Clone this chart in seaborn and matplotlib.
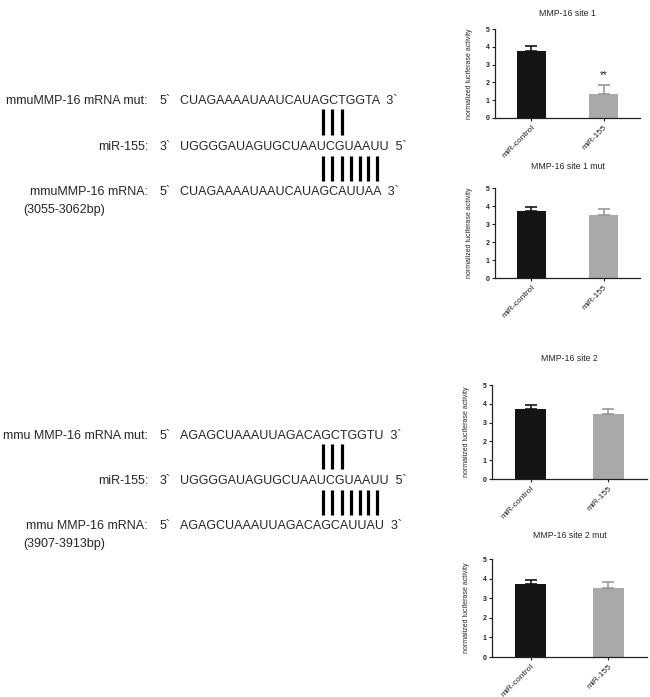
import matplotlib
matplotlib.use("Agg")
import matplotlib.pyplot as plt
import seaborn as sns
from matplotlib.font_manager import FontProperties

# luciferase assay data (mean, upper SEM)
groups = ["miR-control", "miR-155"]
titles = ["MMP-16 site 1", "MMP-16 site 1 mut", "MMP-16 site 2", "MMP-16 site 2 mut"]
means = [[3.75, 1.35], [3.75, 3.52], [3.75, 3.45], [3.75, 3.52]]
errs = [[0.30, 0.50], [0.20, 0.30], [0.20, 0.30], [0.20, 0.30]]
stars = ["**", "", "", ""]

# sequence alignments
mir155 = "UGGGGAUAGUGCUAAUCGUAAUU"
site1_mut = "CUAGAAAAUAAUCAUAGCTGGTA"
site1_wt = "CUAGAAAAUAAUCAUAGCAUUAA"
site2_mut = "AGAGCUAAAUUAGACAGCTGGTU"
site2_wt = "AGAGCUAAAUUAGACAGCAUUAU"
pairs_mut = [15, 16, 17]
pairs_wt = [15, 16, 17, 18, 19, 20, 21]
site_ranges = ["(3055-3062bp)", "(3907-3913bp)"]
mut_labels = ["mmuMMP-16 mRNA mut:", "mmu MMP-16 mRNA mut:"]
wt_labels = ["mmuMMP-16 mRNA:", "mmu MMP-16 mRNA:"]

colors = ["#151515", "#a9a9a9"]
err_colors = ["#151515", "#999999"]

sns.set_style("ticks")
plt.rcParams["font.family"] = ["Liberation Sans", "DejaVu Sans"]

W, H = 650, 697
fig = plt.figure(figsize=(W / 100, H / 100), dpi=100)

# overlay in pixel units for the alignment text
ov = fig.add_axes([0, 0, 1, 1], zorder=-1)
ov.set_xlim(0, W)
ov.set_ylim(H, 0)
ov.axis("off")

fs = 9
prop = FontProperties(family=["Liberation Sans"], size=fs)
renderer = fig.canvas.get_renderer()


def char_centers(seq, x0):
    out = []
    for i in range(len(seq)):
        w_full, _, _ = renderer.get_text_width_height_descent(seq[: i + 1], prop, ismath=False)
        w_ch, _, _ = renderer.get_text_width_height_descent(seq[i], prop, ismath=False)
        out.append(x0 + w_full - w_ch / 2)
    return out


def draw_block(ys, mut, wt, mut_lab, wt_lab, rng):
    y_mut, y_mir, y_wt, y_rng = ys
    lab_x, prime_x, seq_x = 148, 160, 180
    lines = [(y_mut, mut_lab, "5`", mut), (y_mir, "miR-155:", "3`", mir155), (y_wt, wt_lab, "5`", wt)]
    for y, lab, pr, seq in lines:
        end = "5`" if pr == "3`" else "3`"
        ov.text(lab_x, y, lab, ha="right", va="baseline", fontsize=fs)
        ov.text(prime_x, y, pr, ha="left", va="baseline", fontsize=fs)
        ov.text(seq_x, y, seq + "  " + end, ha="left", va="baseline", fontsize=fs)
    ov.text(23, y_rng, rng, ha="left", va="baseline", fontsize=fs)
    xs = char_centers(mir155, seq_x)
    for i in pairs_mut:
        ov.plot([xs[i] + 2, xs[i] + 2], [y_mut + 5, y_mir - 15], color="black", lw=2.3, solid_capstyle="butt")
    for i in pairs_wt:
        ov.plot([xs[i] + 2, xs[i] + 2], [y_mir + 6, y_wt - 14], color="black", lw=2.3, solid_capstyle="butt")


draw_block([104, 150, 195, 213], site1_mut, site1_wt, mut_labels[0], wt_labels[0], site_ranges[0])
draw_block([439, 484, 529, 547], site2_mut, site2_wt, mut_labels[1], wt_labels[1], site_ranges[1])

# bar panels: (left, top, right, bottom) in pixels
boxes = [(495, 29, 640, 118), (495, 188, 640, 278), (492, 385, 647, 479), (492, 559, 647, 657)]
title_pads = [9, 14, 17, 15]

for k, (l, t, r, b) in enumerate(boxes):
    ax = fig.add_axes([l / W, 1 - b / H, (r - l) / W, (b - t) / H])
    sns.barplot(x=groups, y=means[k], hue=groups, palette=colors, width=0.4,
                errorbar=None, legend=False, ax=ax, linewidth=0)
    for j in range(2):
        ax.errorbar(j, means[k][j], yerr=[[0], [errs[k][j]]], fmt="none",
                    ecolor=err_colors[j], elinewidth=1.2, capsize=4, capthick=1.2)
    if stars[k]:
        ax.text(1, means[k][1] + errs[k][1] + 0.55, stars[k], ha="center", va="center", fontsize=7)
    ax.set_xlim(-0.5, 1.5)
    ax.set_ylim(0, 5)
    ax.set_yticks(range(6))
    ax.set_yticklabels([str(v) for v in range(6)], fontsize=5, fontweight="bold")
    ax.set_xticks([0, 1])
    ax.set_xticklabels(groups, rotation=45, ha="right", rotation_mode="anchor", fontsize=6)
    ax.tick_params(axis="both", length=2.5, width=0.8, pad=1.5, colors="#222222")
    ax.set_ylabel("normalized luciferase activity", fontsize=5, labelpad=9)
    ax.set_xlabel("")
    ax.set_title(titles[k], fontsize=6.3, pad=title_pads[k])
    sns.despine(ax=ax)
    for s in ["left", "bottom"]:
        ax.spines[s].set_linewidth(0.9)
        ax.spines[s].set_color("#222222")

fig.savefig("out.png", dpi=100)
